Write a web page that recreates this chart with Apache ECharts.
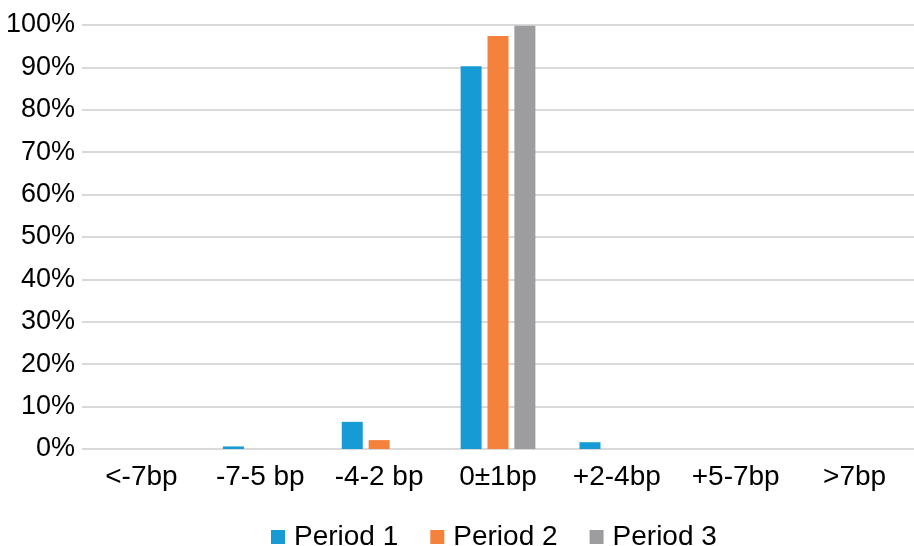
<!DOCTYPE html>
<html>
<head>
<meta charset="utf-8">
<script src="https://cdn.jsdelivr.net/npm/echarts@6/dist/echarts.min.js"></script>
<style>html,body{margin:0;padding:0;background:#fff;}#c{width:914px;height:546px;}</style>
</head>
<body>
<div id="c"></div>
<script>
var categories = ['<-7bp', '-7-5 bp', '-4-2 bp', '0±1bp', '+2-4bp', '+5-7bp', '>7bp'];
var period1 = [0, 0.6, 6.4, 90.3, 1.6, 0, 0];
var period2 = [0, 0, 2.1, 97.4, 0, 0, 0];
var period3 = [0, 0, 0, 99.8, 0, 0, 0];
var seriesNames = ['Period 1', 'Period 2', 'Period 3'];
var yTicks = { min: 0, max: 100, interval: 10 };

var font = 'Liberation Sans';
var chart = echarts.init(document.getElementById('c'), null, { renderer: 'canvas' });
chart.setOption({
  animation: false,
  textStyle: { fontFamily: font },
  grid: { left: 82, right: -8, top: 25, bottom: 97, containLabel: false },
  legend: {
    top: 518,
    left: 266,
    icon: 'rect',
    itemWidth: 14,
    itemHeight: 14,
    itemGap: 32,
    textStyle: { fontSize: 28, color: '#000', fontFamily: font, padding: [0, 0, 0, 4] },
    data: seriesNames
  },
  xAxis: {
    type: 'category',
    data: categories,
    axisLine: { show: false },
    axisTick: { show: false },
    axisLabel: { fontSize: 28, color: '#000', margin: 14, fontFamily: font, interval: 0 }
  },
  yAxis: {
    type: 'value',
    min: yTicks.min,
    max: yTicks.max,
    interval: yTicks.interval,
    axisLine: { show: false },
    axisTick: { show: false },
    splitLine: { lineStyle: { color: '#d9d9d9', width: 2 } },
    axisLabel: { fontSize: 27, color: '#000', margin: 7, fontFamily: font, formatter: '{value}%' }
  },
  series: [
    { name: seriesNames[0], type: 'bar', data: period1, itemStyle: { color: '#169bd5' }, barWidth: 21, barGap: '28%' },
    { name: seriesNames[1], type: 'bar', data: period2, itemStyle: { color: '#f5823c' }, barWidth: 21, barGap: '28%' },
    { name: seriesNames[2], type: 'bar', data: period3, itemStyle: { color: '#9d9d9f' }, barWidth: 21, barGap: '28%' }
  ]
});
</script>
</body>
</html>
